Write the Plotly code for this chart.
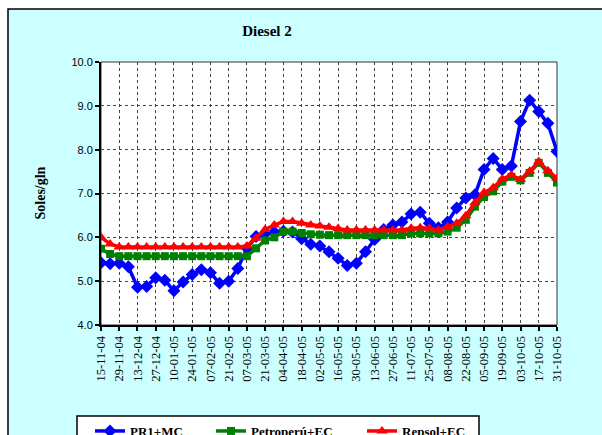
import plotly.graph_objects as go

dates = ["15-11-04", "22-11-04", "29-11-04", "06-12-04", "13-12-04", "20-12-04", "27-12-04",
         "03-01-05", "10-01-05", "17-01-05", "24-01-05", "31-01-05", "07-02-05", "14-02-05",
         "21-02-05", "28-02-05", "07-03-05", "14-03-05", "21-03-05", "28-03-05", "04-04-05",
         "11-04-05", "18-04-05", "25-04-05", "02-05-05", "09-05-05", "16-05-05", "23-05-05",
         "30-05-05", "06-06-05", "13-06-05", "20-06-05", "27-06-05", "04-07-05", "11-07-05",
         "18-07-05", "25-07-05", "01-08-05", "08-08-05", "15-08-05", "22-08-05", "29-08-05",
         "05-09-05", "12-09-05", "19-09-05", "26-09-05", "03-10-05", "10-10-05", "17-10-05",
         "24-10-05", "31-10-05"]

pr1_mc = [5.42, 5.40, 5.41, 5.33, 4.86, 4.88, 5.08, 5.02, 4.78, 4.98, 5.15, 5.26, 5.19, 4.95,
          5.00, 5.29, 5.75, 6.02, 6.08, 6.12, 6.14, 6.12, 5.97, 5.84, 5.80, 5.67, 5.52, 5.36,
          5.41, 5.67, 5.95, 6.18, 6.28, 6.35, 6.53, 6.57, 6.32, 6.22, 6.35, 6.67, 6.90, 6.97,
          7.55, 7.80, 7.55, 7.63, 8.64, 9.13, 8.87, 8.60, 7.96]

petroperu_ec = [5.74, 5.62, 5.57, 5.57, 5.57, 5.57, 5.57, 5.57, 5.57, 5.57, 5.57, 5.57, 5.57,
                5.57, 5.57, 5.57, 5.57, 5.75, 5.93, 6.00, 6.13, 6.13, 6.10, 6.07, 6.06, 6.05,
                6.05, 6.05, 6.05, 6.05, 6.05, 6.05, 6.05, 6.05, 6.09, 6.09, 6.09, 6.09, 6.13,
                6.22, 6.40, 6.70, 6.92, 7.05, 7.27, 7.38, 7.30, 7.47, 7.70, 7.47, 7.25]

repsol_ec = [6.00, 5.85, 5.78, 5.78, 5.78, 5.78, 5.78, 5.78, 5.78, 5.78, 5.78, 5.78, 5.78, 5.78,
             5.78, 5.78, 5.80, 5.98, 6.18, 6.28, 6.36, 6.36, 6.32, 6.28, 6.26, 6.23, 6.20, 6.17,
             6.17, 6.17, 6.17, 6.17, 6.17, 6.17, 6.21, 6.22, 6.21, 6.17, 6.24, 6.32, 6.49, 6.79,
             7.02, 7.13, 7.33, 7.42, 7.32, 7.51, 7.73, 7.52, 7.35]

series_names = ["PR1+MC", "Petroperú+EC", "Repsol+EC"]
tick_labels = dates[::2]
y_ticks = [4.0, 5.0, 6.0, 7.0, 8.0, 9.0, 10.0]

W, H = 602, 435
L, R, T, B = 101, 45, 62, 110
PW, PH = W - L - R, H - T - B

def px_x(p):
    return (p - L) / PW

def px_y(p):
    return (H - B - p) / PH

SERIF = "Liberation Serif, Times New Roman, serif"
SANS = "Liberation Sans, Arial, sans-serif"

fig = go.Figure()
styles = [("#0000FF", "diamond", 10), ("#008000", "square", 8), ("#FF0000", "triangle-up", 10)]
for k, (vals, name) in enumerate(zip([pr1_mc, petroperu_ec, repsol_ec], series_names)):
    col, sym, sz = styles[k]
    fig.add_trace(go.Scatter(
        x=dates, y=vals, name=name, mode="lines+markers",
        line=dict(color=col, width=3.5),
        marker=dict(color=col, symbol=sym, size=sz, line=dict(width=0)),
        legend="legend" if k == 0 else "legend%d" % (k + 1),
    ))

sym_centers = [110, 231, 382]
leg_top = 416
legend_common = dict(orientation="h", bgcolor="rgba(0,0,0,0)", borderwidth=0,
                     font=dict(family=SERIF, size=13, color="black", weight="bold"),
                     xanchor="left", yanchor="top", y=px_y(leg_top))

shapes = [
    dict(type="rect", xref="paper", yref="paper", layer="below",
         x0=px_x(8), x1=px_x(640), y0=px_y(470), y1=px_y(9),
         fillcolor="#CCFFFF", line=dict(color="black", width=1.5)),
    dict(type="rect", xref="paper", yref="paper", layer="below",
         x0=0, x1=1, y0=0, y1=1, fillcolor="white", line=dict(color="#333333", width=1)),
    dict(type="rect", xref="paper", yref="paper", layer="below",
         x0=px_x(77), x1=px_x(479), y0=px_y(470), y1=px_y(416),
         fillcolor="white", line=dict(color="black", width=1.5)),
]

fig.update_layout(
    width=W, height=H, autosize=False,
    margin=dict(l=L, r=R, t=T, b=B, pad=0, autoexpand=False),
    paper_bgcolor="white", plot_bgcolor="white",
    title=dict(text="Diesel 2", font=dict(family=SERIF, size=15, color="black", weight="bold"),
               x=px_x(267), xref="paper", xanchor="center",
               y=1 - 31 / H, yref="container", yanchor="middle"),
    shapes=shapes,
    annotations=[dict(text="Soles/gln", xref="paper", yref="paper",
                      x=px_x(40), y=0.5, xanchor="center", yanchor="middle",
                      textangle=-90, showarrow=False,
                      font=dict(family=SERIF, size=14, color="black", weight="bold"))],
    legend=dict(x=px_x(sym_centers[0] - 20), **legend_common),
    legend2=dict(x=px_x(sym_centers[1] - 20), **legend_common),
    legend3=dict(x=px_x(sym_centers[2] - 20), **legend_common),
    xaxis=dict(type="category", range=[0, len(dates) - 1],
               tickmode="array", tickvals=tick_labels, ticktext=tick_labels,
               tickangle=-90, tickfont=dict(family=SERIF, size=12.5, color="black"),
               ticks="outside", ticklen=4, tickwidth=2, tickcolor="black",
               showline=True, linecolor="black", linewidth=2,
               showgrid=True, gridcolor="#444444", gridwidth=1, griddash="dot",
               zeroline=False),
    yaxis=dict(range=[4, 10], tickmode="array", tickvals=y_ticks,
               ticktext=["%.1f" % v for v in y_ticks],
               tickfont=dict(family=SANS, size=11, color="black"),
               ticks="outside", ticklen=4, tickwidth=2, tickcolor="black",
               showline=True, linecolor="black", linewidth=2,
               showgrid=True, gridcolor="#444444", gridwidth=1, griddash="dot",
               zeroline=False),
    showlegend=True,
)

fig.write_html("out.html", config={"displayModeBar": False},
               post_script="document.body.style.margin='0';")
